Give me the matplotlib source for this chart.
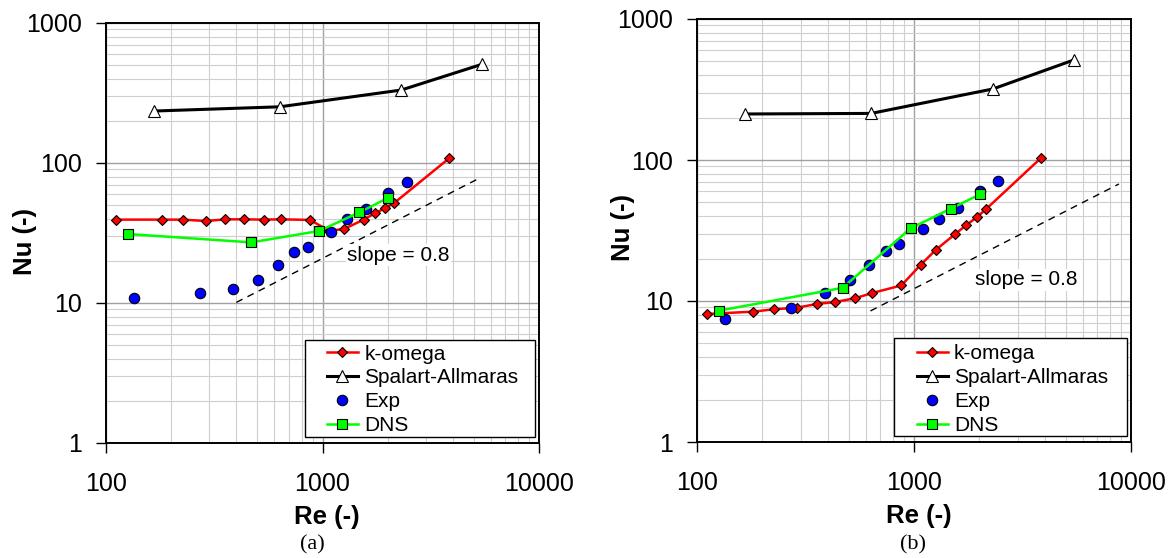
import numpy as np
import matplotlib
matplotlib.use('Agg')
import matplotlib.pyplot as plt
from matplotlib.patches import Rectangle
from matplotlib.ticker import LogLocator, FixedLocator, NullFormatter

plt.rcParams['font.family'] = ['Liberation Sans', 'DejaVu Sans']

# Reynolds numbers (shared by both panels)
re_komega = [111, 181, 226, 289, 356, 433, 534, 643, 875, 1075, 1258, 1550, 1745, 1952, 2150, 3860]
re_sa = [166, 635, 2310, 5450]
re_exp = [135, 272, 387, 505, 623, 741, 857, 1100, 1300, 1595, 2010, 2445]
re_dns = [126.5, 469, 965, 1480, 2015]

# panel (a)
nu_komega_a = [39.4, 39.4, 39.4, 38.5, 39.6, 39.6, 39.4, 39.6, 39.2, 32.8, 33.8, 39.4, 43.7, 47.7, 52.0, 108.6]
nu_sa_a = [235, 252, 332, 507]
nu_exp_a = [10.9, 11.7, 12.5, 14.6, 18.8, 23.0, 25.2, 32.3, 39.6, 46.9, 60.8, 72.8]
nu_dns_a = [31.1, 27.1, 32.7, 44.4, 56.5]
re_slope_a = [400, 5400]
nu_slope_a = [10.1, 79]

# panel (b)
nu_komega_b = [8.09, 8.40, 8.73, 8.97, 9.52, 9.84, 10.45, 11.4, 12.9, 18.1, 23.0, 29.9, 34.6, 39.4, 44.9, 103.8]
nu_sa_b = [212, 214, 319, 512]
nu_exp_b = [7.42, 8.97, 11.4, 14.2, 17.9, 22.6, 25.4, 32.4, 38.2, 45.9, 60.3, 71.3]
nu_dns_b = [8.54, 12.4, 32.8, 45.2, 57.1]
re_slope_b = [630, 8800]
nu_slope_b = [8.5, 67.6]

panels = [
    dict(rect=[106/1174, 115/558, 433/1174, 420/558],
         komega=nu_komega_a, sa=nu_sa_a, exp=nu_exp_a, dns=nu_dns_a,
         slope_re=re_slope_a, slope_nu=nu_slope_a, slope_txt=(1300, 22.0),
         ylabel_x=-0.16, ylabel_y=0.48, tag='(a)', tag_x=312,
         leg_box=(0.4596, 0.0143, 0.531, 0.231), leg_anchor=(0.510, 0.2345)),
    dict(rect=[697/1174, 116/558, 434/1174, 423/558],
         komega=nu_komega_b, sa=nu_sa_b, exp=nu_exp_b, dns=nu_dns_b,
         slope_re=re_slope_b, slope_nu=nu_slope_b, slope_txt=(1920, 14.1),
         ylabel_x=-0.143, ylabel_y=0.508, tag='(b)', tag_x=913,
         leg_box=(0.4546, 0.0142, 0.5355, 0.231), leg_anchor=(0.506, 0.2305)),
]

fig = plt.figure(figsize=(11.74, 5.58), dpi=100)

for p in panels:
    ax = fig.add_axes(p['rect'])
    ax.set_xscale('log')
    ax.set_yscale('log')
    ax.set_xlim(100, 10000)
    ax.set_ylim(1, 1000)

    ax.plot(re_komega, p['komega'], color='#ff0000', lw=1.8, marker='D', ms=5.5,
            mfc='#ff0000', mec='black', mew=0.8, label='k-omega', zorder=4)
    ax.plot(re_sa, p['sa'], color='black', lw=2.2, marker='^', ms=8,
            mfc='white', mec='black', mew=0.8, label='Spalart-Allmaras', zorder=4)
    ax.plot(re_exp, p['exp'], ls='none', marker='o', ms=7.5,
            mfc='#0000ff', mec='black', mew=0.8, label='Exp', zorder=5)
    ax.plot(re_dns, p['dns'], color='#00ff00', lw=1.8, marker='s', ms=6.5,
            mfc='#00ff00', mec='black', mew=0.8, label='DNS', zorder=6)
    ax.plot(p['slope_re'], p['slope_nu'], color='black', lw=1.0, ls=(0, (5, 4)), zorder=3)
    ax.text(*p['slope_txt'], 'slope = 0.8', fontsize=15, ha='left', va='center',
            bbox=dict(fc='white', ec='none', pad=1), zorder=3)

    ax.xaxis.set_major_locator(FixedLocator([100, 1000, 10000]))
    ax.yaxis.set_major_locator(FixedLocator([1, 10, 100, 1000]))
    ax.xaxis.set_minor_locator(LogLocator(base=10, subs=np.arange(2, 10)))
    ax.yaxis.set_minor_locator(LogLocator(base=10, subs=np.arange(2, 10)))
    ax.xaxis.set_minor_formatter(NullFormatter())
    ax.yaxis.set_minor_formatter(NullFormatter())
    ax.set_xticklabels(['100', '1000', '10000'])
    ax.set_yticklabels(['1', '10', '100', '1000'])
    ax.tick_params(which='major', direction='out', length=7, width=1, labelsize=18)
    ax.tick_params(axis='x', which='major', pad=14)
    ax.tick_params(axis='y', which='major', pad=10)
    ax.tick_params(which='minor', length=0)

    ax.grid(which='major', color='#a0a0a0', lw=1.0)
    ax.grid(which='minor', color='#cfcfcf', lw=0.8)
    ax.set_axisbelow(True)
    for s in ax.spines.values():
        s.set_linewidth(1.4)

    ax.set_xlabel('Re (-)', fontsize=18.5, fontweight='bold')
    ax.xaxis.set_label_coords(0.51, -0.147)
    ax.set_ylabel('Nu (-)', fontsize=18.5, fontweight='bold')
    ax.yaxis.set_label_coords(p['ylabel_x'], p['ylabel_y'])

    # legend frame drawn separately (wide side margins, tight rows)
    bx, by, bw, bh = p['leg_box']
    ax.add_patch(Rectangle((bx, by), bw, bh, transform=ax.transAxes,
                           fc='white', ec='black', lw=1.0, zorder=7))
    leg = ax.legend(loc='upper left', bbox_to_anchor=p['leg_anchor'], fontsize=15,
                    frameon=False, borderaxespad=0, borderpad=0,
                    handlelength=1.5, handletextpad=0.3, labelspacing=0.23)
    leg.set_zorder(8)

    fig.text(p['tag_x']/1174, 1 - 545/558, p['tag'], fontsize=16, ha='center', va='center',
             family=['Liberation Serif', 'DejaVu Serif'])

fig.savefig('out.png', dpi=100)
